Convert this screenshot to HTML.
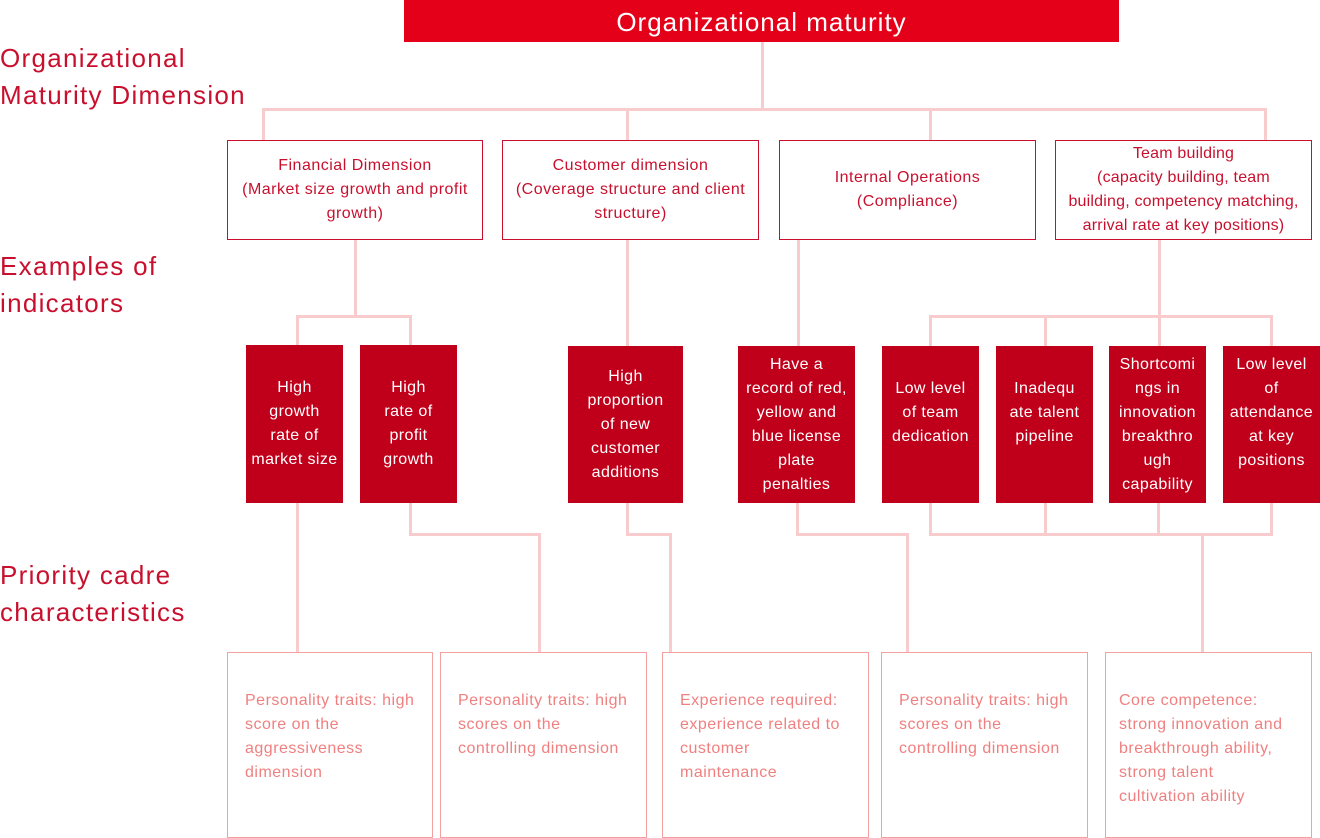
<!DOCTYPE html>
<html><head><style>
body{margin:0;width:1320px;height:837px;background:#fff;position:relative;overflow:hidden;font-family:"Liberation Sans",sans-serif}
.a{position:absolute;box-sizing:border-box}
.l{background:#f8cccc}
.lab{color:#c8102e;font-size:26px;line-height:37px;left:0;letter-spacing:1.3px;white-space:nowrap}
.dim{border:1px solid #c8102e;color:#c8102e;font-size:16px;line-height:24px;letter-spacing:0.5px;text-align:center;display:flex;align-items:center;justify-content:center;white-space:nowrap;background:#fff}
.rb{background:#c0001a;color:#fff;font-size:16px;line-height:24px;letter-spacing:0.4px;text-align:center;display:flex;align-items:center;justify-content:center;white-space:nowrap}
.bb{border:1px solid #f2a0a0;color:#f08080;font-size:16px;line-height:24px;letter-spacing:0.5px;padding:36px 0 0 17px;background:#fff;white-space:nowrap}
</style></head><body>
<div class="a" style="left:404px;top:0;width:715px;height:42px;background:#e50019;color:#fff;font-size:26px;letter-spacing:1px;line-height:44px;text-align:center">Organizational maturity</div>
<div class="a lab" style="top:40px">Organizational<br>Maturity Dimension</div>
<div class="a lab" style="top:248px">Examples of<br>indicators</div>
<div class="a lab" style="top:557px">Priority cadre<br>characteristics</div>

<div class="a l" style="left:761px;top:42px;width:3px;height:69px"></div>
<div class="a l" style="left:262px;top:108px;width:1005px;height:3px"></div>
<div class="a l" style="left:262px;top:108px;width:3px;height:33px"></div>
<div class="a l" style="left:626px;top:108px;width:3px;height:33px"></div>
<div class="a l" style="left:929px;top:108px;width:3px;height:33px"></div>
<div class="a l" style="left:1264px;top:108px;width:3px;height:33px"></div>

<div class="a l" style="left:354px;top:239px;width:3px;height:78px"></div>
<div class="a l" style="left:296px;top:315px;width:115px;height:3px"></div>
<div class="a l" style="left:296px;top:315px;width:3px;height:31px"></div>
<div class="a l" style="left:409px;top:315px;width:3px;height:31px"></div>
<div class="a l" style="left:626px;top:239px;width:3px;height:107px"></div>
<div class="a l" style="left:797px;top:239px;width:3px;height:107px"></div>
<div class="a l" style="left:1158px;top:239px;width:3px;height:78px"></div>
<div class="a l" style="left:929px;top:315px;width:344px;height:3px"></div>
<div class="a l" style="left:929px;top:315px;width:3px;height:31px"></div>
<div class="a l" style="left:1044px;top:315px;width:3px;height:31px"></div>
<div class="a l" style="left:1158px;top:315px;width:3px;height:31px"></div>
<div class="a l" style="left:1270px;top:315px;width:3px;height:31px"></div>

<div class="a l" style="left:296px;top:503px;width:3px;height:150px"></div>
<div class="a l" style="left:409px;top:503px;width:3px;height:33px"></div>
<div class="a l" style="left:409px;top:533px;width:132px;height:3px"></div>
<div class="a l" style="left:538px;top:533px;width:3px;height:120px"></div>
<div class="a l" style="left:626px;top:503px;width:3px;height:33px"></div>
<div class="a l" style="left:626px;top:533px;width:45px;height:3px"></div>
<div class="a l" style="left:669px;top:533px;width:3px;height:120px"></div>
<div class="a l" style="left:796px;top:503px;width:3px;height:33px"></div>
<div class="a l" style="left:796px;top:533px;width:112px;height:3px"></div>
<div class="a l" style="left:906px;top:533px;width:3px;height:120px"></div>
<div class="a l" style="left:929px;top:503px;width:3px;height:33px"></div>
<div class="a l" style="left:1044px;top:503px;width:3px;height:33px"></div>
<div class="a l" style="left:1157px;top:503px;width:3px;height:33px"></div>
<div class="a l" style="left:1270px;top:503px;width:3px;height:33px"></div>
<div class="a l" style="left:929px;top:533px;width:344px;height:3px"></div>
<div class="a l" style="left:1201px;top:533px;width:3px;height:120px"></div>

<div class="a dim" style="left:227px;top:140px;width:256px;height:100px"><div>Financial Dimension<br>(Market size growth and profit<br>growth)</div></div>
<div class="a dim" style="left:502px;top:140px;width:257px;height:100px"><div>Customer dimension<br>(Coverage structure and client<br>structure)</div></div>
<div class="a dim" style="left:779px;top:140px;width:257px;height:100px"><div>Internal Operations<br>(Compliance)</div></div>
<div class="a dim" style="left:1055px;top:140px;width:257px;height:100px;letter-spacing:0.2px"><div>Team building<br>(capacity building, team<br>building, competency matching,<br>arrival rate at key positions)</div></div>

<div class="a rb" style="left:246px;top:345px;width:97px;height:158px"><div>High<br>growth<br>rate of<br>market size</div></div>
<div class="a rb" style="left:360px;top:345px;width:97px;height:158px"><div>High<br>rate of<br>profit<br>growth</div></div>
<div class="a rb" style="left:568px;top:346px;width:115px;height:157px"><div>High<br>proportion<br>of new<br>customer<br>additions</div></div>
<div class="a rb" style="left:738px;top:346px;width:117px;height:157px"><div>Have a<br>record of red,<br>yellow and<br>blue license<br>plate<br>penalties</div></div>
<div class="a rb" style="left:882px;top:346px;width:97px;height:157px;padding-bottom:24px"><div>Low level<br>of team<br>dedication</div></div>
<div class="a rb" style="left:996px;top:346px;width:97px;height:157px;padding-bottom:24px"><div>Inadequ<br>ate talent<br>pipeline</div></div>
<div class="a rb" style="left:1109px;top:346px;width:97px;height:157px"><div>Shortcomi<br>ngs in<br>innovation<br>breakthro<br>ugh<br>capability</div></div>
<div class="a rb" style="left:1223px;top:346px;width:97px;height:157px;padding-bottom:24px"><div>Low level<br>of<br>attendance<br>at key<br>positions</div></div>

<div class="a bb" style="left:227px;top:652px;width:206px;height:186px">Personality traits: high<br>score on the<br>aggressiveness<br>dimension</div>
<div class="a bb" style="left:440px;top:652px;width:207px;height:186px">Personality traits: high<br>scores on the<br>controlling dimension</div>
<div class="a bb" style="left:662px;top:652px;width:207px;height:186px">Experience required:<br>experience related to<br>customer<br>maintenance</div>
<div class="a bb" style="left:881px;top:652px;width:207px;height:186px">Personality traits: high<br>scores on the<br>controlling dimension</div>
<div class="a bb" style="left:1105px;top:652px;width:207px;height:186px;padding-left:13px">Core competence:<br>strong innovation and<br>breakthrough ability,<br>strong talent<br>cultivation ability</div>
</body></html>
